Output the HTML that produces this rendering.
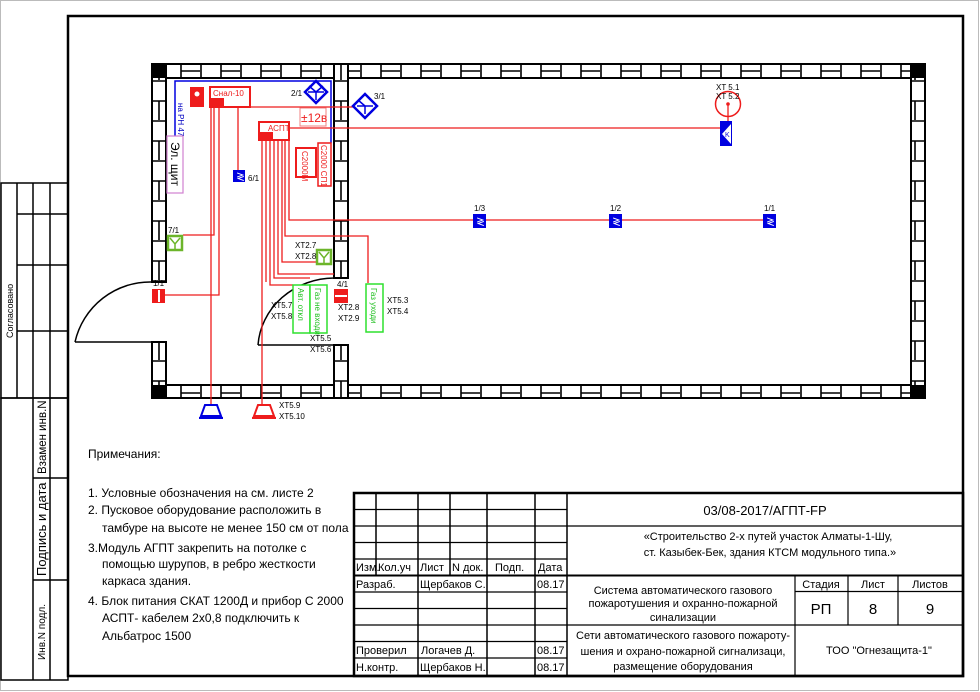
<!DOCTYPE html>
<html><head><meta charset="utf-8"><style>
html,body{margin:0;padding:0;background:#fff}
svg{display:block}
text{font-family:"Liberation Sans","Noto Sans CJK SC",sans-serif}
</style></head><body>
<svg width="980" height="692" viewBox="0 0 980 692" xmlns="http://www.w3.org/2000/svg">
<defs>
<pattern id="bh" x="0" y="64" width="40" height="14" patternUnits="userSpaceOnUse">
<rect width="40" height="14" fill="#fff"/>
<path d="M1 0V14 M21 0V14 M21 7H40" stroke="#000" stroke-width="1.6" fill="none"/>
</pattern>
<pattern id="bv" x="152" y="0" width="14" height="40" patternUnits="userSpaceOnUse">
<rect width="14" height="40" fill="#fff"/>
<path d="M0 1H14 M0 21H14 M7 21V40" stroke="#000" stroke-width="1.6" fill="none"/>
</pattern>
</defs>
<rect x="0.5" y="0.5" width="978" height="690" fill="#fff" stroke="#bbb"/>
<rect x="68" y="16" width="895" height="660" fill="none" stroke="#000" stroke-width="2.5"/>
<g stroke="#000" stroke-width="1.5" fill="none">
<rect x="1" y="183" width="67" height="215"/>
<line x1="17" y1="183" x2="17" y2="398"/><line x1="33" y1="183" x2="33" y2="398"/><line x1="50" y1="183" x2="50" y2="398"/>
<line x1="17" y1="214" x2="68" y2="214"/><line x1="17" y1="265" x2="68" y2="265"/><line x1="17" y1="331" x2="68" y2="331"/>
<rect x="1" y="398" width="67" height="282"/>
<line x1="33" y1="398" x2="33" y2="680"/><line x1="50" y1="398" x2="50" y2="680"/>
<line x1="33" y1="478" x2="68" y2="478"/><line x1="33" y1="580" x2="68" y2="580"/>
</g>
<text transform="translate(13,338) rotate(-90)" font-size="9">Согласовано</text>
<text transform="translate(46,474) rotate(-90)" font-size="11.5">Взамен инв.N</text>
<text transform="translate(46,576) rotate(-90)" font-size="13">Подпись и дата</text>
<text transform="translate(45,660) rotate(-90)" font-size="10">Инв.N подл.</text>

<g stroke="#000" stroke-width="2">
<rect x="152" y="64" width="773" height="14" fill="url(#bh)"/>
<rect x="152" y="385" width="773" height="13" fill="url(#bh)"/>
<rect x="152" y="64" width="14" height="218" fill="url(#bv)"/>
<rect x="152" y="342" width="14" height="56" fill="url(#bv)"/>
<rect x="911" y="64" width="14" height="334" fill="url(#bv)"/>
<rect x="334" y="64" width="14" height="214" fill="url(#bv)"/>
<rect x="334" y="345" width="14" height="53" fill="url(#bv)"/>
</g>
<g fill="#000"><rect x="152" y="64" width="14" height="14"/><rect x="911" y="64" width="14" height="14"/><rect x="152" y="385" width="14" height="13"/><rect x="911" y="385" width="14" height="13"/></g>
<g stroke="#000" stroke-width="1.5" fill="none">
<line x1="75" y1="342" x2="152" y2="342"/><path d="M75 342 A77 77 0 0 1 152 282"/>
<line x1="258" y1="345" x2="334" y2="345"/><path d="M258 345 A77 72 0 0 1 334 278"/>
</g>

<g stroke="#0000e0" stroke-width="1.5" fill="none">
<path d="M175 136V81H331V143"/>
</g>
<text transform="translate(178,103) rotate(90)" font-size="8" fill="#0000c0">на РН 47</text>
<rect x="167" y="136" width="16" height="57" fill="#fff" stroke="#d080d0" stroke-width="1.2"/>
<text transform="translate(171,142) rotate(90)" font-size="12">Эл. щит</text>

<g stroke="#ee1c1c" stroke-width="1.3" fill="none">
<path d="M250 107H356"/>
<path d="M289 128H720"/>
<path d="M289 140V220H770"/>
<path d="M238 107V170"/>
<path d="M211 107V405"/><path d="M214 107V235H183"/><path d="M219 107V295H211"/><path d="M211 295H165"/>
<path d="M262 140V405"/><path d="M266 140V282"/><path d="M270 140V285H293"/><path d="M274 140V278H310"/>
<path d="M278 140V274H334"/><path d="M282 140V262H317"/><path d="M285 140V236H368V283"/>
<path d="M728 104V122"/>
</g>

<rect x="190" y="87" width="14" height="20" fill="#ee1c1c"/><circle cx="197" cy="94" r="2.5" fill="#fff"/>
<rect x="210" y="87" width="40" height="20" fill="#fff" stroke="#ee1c1c" stroke-width="2"/>
<rect x="210" y="98" width="14" height="9" fill="#ee1c1c"/>
<text x="213" y="96" font-size="8" fill="#ee1c1c">Снал-10</text>
<rect x="300" y="108" width="26" height="18" fill="#fff" stroke="#f08080" stroke-width="1"/>
<text x="301" y="122" font-size="12" fill="#ee1c1c">±12в</text>
<rect x="259" y="122" width="30" height="18" fill="#fff" stroke="#ee1c1c" stroke-width="2"/>
<rect x="259" y="132" width="14" height="8" fill="#ee1c1c"/>
<text x="268" y="131" font-size="8" fill="#ee1c1c">АСПТ</text>
<rect x="296" y="148" width="20" height="29" fill="#fff" stroke="#ee1c1c" stroke-width="2"/>
<text transform="translate(302,151) rotate(90)" font-size="8" fill="#ee1c1c">С2000М</text>
<rect x="318" y="143" width="13" height="43" fill="#fff" stroke="#ee1c1c" stroke-width="1.5"/>
<text transform="translate(321,145) rotate(90)" font-size="8" fill="#ee1c1c">С2000 СП1</text>

<g stroke="#0000e0" stroke-width="2.5" fill="#fff">
<path d="M316 81L327 92L316 103L305 92Z"/><path d="M308 92H324M316 92V100M316 92L309 86M316 92L323 86" stroke-width="1.5"/>
<path d="M365 94L377 106L365 118L353 106Z"/><path d="M357 106H373M365 106V114M365 106L358 100" stroke-width="1.5"/>
</g>
<text x="291" y="96" font-size="8">2/1</text>
<text x="374" y="99" font-size="8">3/1</text>

<g fill="#0000e0">
<rect x="233" y="170" width="12" height="12"/><rect x="473" y="214" width="13" height="14"/><rect x="609" y="214" width="13" height="14"/><rect x="763" y="214" width="13" height="14"/>
<rect x="720" y="121" width="12" height="25"/>
</g>
<g fill="#fff" font-size="9" font-weight="bold"><text x="236" y="180">≷</text><text x="476" y="225">≷</text><text x="612" y="225">≷</text><text x="766" y="225">≷</text></g>
<path d="M731 124L722 134L731 144Z" fill="#fff"/><text x="725" y="137" font-size="7" fill="#0000e0">K</text>
<text x="248" y="181" font-size="8">6/1</text>
<text x="474" y="211" font-size="8">1/3</text><text x="610" y="211" font-size="8">1/2</text><text x="764" y="211" font-size="8">1/1</text>
<circle cx="728" cy="104" r="12.5" fill="none" stroke="#ee1c1c" stroke-width="1.5"/><circle cx="728" cy="104" r="1.8" fill="#ee1c1c"/>
<text x="716" y="90" font-size="8">XT 5.1</text><text x="716" y="99" font-size="8">XT 5.2</text>

<rect x="168" y="236" width="14" height="14" fill="#fff" stroke="#6cb52a" stroke-width="2.5"/><path d="M170 238L175 244L180 238M175 244V249" stroke="#6cb52a" stroke-width="1.5" fill="none"/>
<text x="168" y="233" font-size="8">7/1</text>
<rect x="317" y="250" width="14" height="14" fill="#fff" stroke="#6cb52a" stroke-width="2.5"/><path d="M319 252L324 258L329 252M324 258V263" stroke="#6cb52a" stroke-width="1.5" fill="none"/>
<text x="295" y="248" font-size="8">XT2.7</text><text x="295" y="259" font-size="8">XT2.8</text>
<rect x="293" y="285" width="17" height="48" fill="#fff" stroke="#2ee02e" stroke-width="1.5"/>
<rect x="310" y="285" width="17" height="48" fill="#fff" stroke="#2ee02e" stroke-width="1.5"/>
<rect x="366" y="284" width="17" height="48" fill="#fff" stroke="#2ee02e" stroke-width="1.5"/>
<text transform="translate(298,288) rotate(90)" font-size="8" fill="#1fbf1f">Авт. откл</text>
<text transform="translate(315,288) rotate(90)" font-size="8" fill="#1fbf1f">Газ не входи</text>
<text transform="translate(371,288) rotate(90)" font-size="8" fill="#1fbf1f">Газ уходи</text>
<text x="271" y="308" font-size="8">XT5.7</text><text x="271" y="319" font-size="8">XT5.8</text>
<text x="310" y="341" font-size="8">XT5.5</text><text x="310" y="352" font-size="8">XT5.6</text>
<text x="387" y="303" font-size="8">XT5.3</text><text x="387" y="314" font-size="8">XT5.4</text>
<text x="338" y="310" font-size="8">XT2.8</text><text x="338" y="321" font-size="8">XT2.9</text>
<text x="337" y="287" font-size="8">4/1</text>
<rect x="334" y="289" width="14" height="14" fill="#ee1c1c"/><rect x="335" y="295" width="12" height="2" fill="#fff"/>
<text x="153" y="286" font-size="8">1/1</text>
<rect x="152" y="289" width="13" height="14" fill="#ee1c1c"/><rect x="158" y="290" width="2" height="12" fill="#fff"/>
<g fill="none" stroke-width="2">
<path d="M205 405H217L221 416H201Z M199 418H223" stroke="#0000e0"/>
<path d="M258 405H270L274 416H254Z M252 418H276" stroke="#ee1c1c"/>
</g>
<text x="279" y="408" font-size="8">XT5.9</text><text x="279" y="419" font-size="8">XT5.10</text>

<g font-size="12">
<text x="88" y="458">Примечания:</text>
<text x="88" y="497">1. Условные обозначения на см. листе 2</text>
<text x="88" y="514">2. Пусковое оборудование расположить в</text>
<text x="102" y="532">тамбуре на высоте не менее 150 см от пола</text>
<text x="88" y="552">3.Модуль АГПТ закрепить на потолке с</text>
<text x="102" y="568">помощью шурупов, в ребро жесткости</text>
<text x="102" y="585">каркаса здания.</text>
<text x="88" y="605">4. Блок питания СКАТ 1200Д и прибор С 2000</text>
<text x="102" y="622">АСПТ- кабелем 2х0,8  подключить к</text>
<text x="102" y="640">Альбатрос 1500</text>
</g>

<g stroke="#000" fill="none">
<rect x="354" y="493" width="609" height="183" stroke-width="2.5"/>
<g stroke-width="1.2">
<path d="M354 509.5H567M354 526H963M354 542.5H567M354 559H567M354 592H567M354 608.5H567M354 625H963M354 641.5H567M354 658H567"/>
<path d="M354 575.5H963" stroke-width="2"/>
<path d="M376 493V575.5M418 493V676M450 493V575.5M487 493V676M535 493V676M567 493V676" stroke-width="1.5"/>
<path d="M795 575.5V676M848 575.5V625M898 575.5V625M795 591.5H963"/>
</g></g>
<g font-size="11">
<text x="356" y="571">Изм.</text><text x="378" y="571">Кол.уч</text><text x="420" y="571">Лист</text><text x="452" y="571">N док.</text><text x="495" y="571">Подп.</text><text x="538" y="571">Дата</text>
<text x="356" y="588">Разраб.</text><text x="420" y="588">Щербаков С.</text><text x="537" y="588">08.17</text>
<text x="356" y="654">Проверил</text><text x="421" y="654">Логачев Д.</text><text x="537" y="654">08.17</text>
<text x="356" y="671">Н.контр.</text><text x="420" y="671">Щербаков Н.</text><text x="537" y="671">08.17</text>
</g>
<text x="765" y="515" font-size="13" text-anchor="middle">03/08-2017/АГПТ-FP</text>
<g font-size="11" text-anchor="middle">
<text x="768" y="540">«Строительство 2-х путей участок Алматы-1-Шу,</text>
<text x="770" y="556">ст. Казыбек-Бек, здания КТСМ модульного типа.»</text>
<text x="683" y="594">Система автоматического газового</text>
<text x="683" y="607">пожаротушения и охранно-пожарной</text>
<text x="683" y="621">синализации</text>
<text x="683" y="639">Сети автоматического газового пожароту-</text>
<text x="683" y="655">шения  и охрано-пожарной сигнализаци,</text>
<text x="683" y="670">размещение оборудования</text>
<text x="821" y="588">Стадия</text><text x="873" y="588">Лист</text><text x="930" y="588">Листов</text>
<text x="879" y="654">ТОО "Огнезащита-1"</text>
</g>
<g font-size="15" text-anchor="middle"><text x="821" y="614">РП</text><text x="873" y="614">8</text><text x="930" y="614">9</text></g>
</svg>
</body></html>
